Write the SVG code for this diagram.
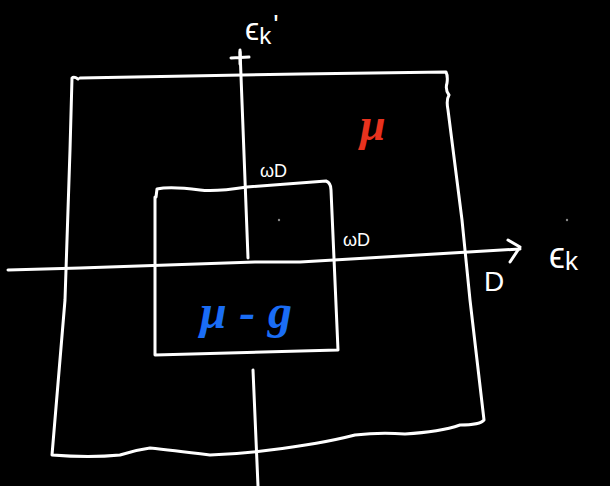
<svg xmlns="http://www.w3.org/2000/svg" width="610" height="486" viewBox="0 0 610 486">
<style>
.ln{fill:none;stroke:#fff;stroke-width:3;stroke-linecap:round;stroke-linejoin:round}
.t{font-family:"Liberation Sans",Arial,sans-serif;fill:#fff}
</style>
<rect width="610" height="486" fill="#000"/>
<g id="outer-box">
<path class="ln" d="M78,79 Q74,76 72,78 L70,150 L65,300 L52,455 Q90,458 120,455 Q135,450 150,448 Q170,450 210,455 Q240,454 270,450 Q320,444 355,435 Q380,432 405,434 Q440,432 460,425 Q480,425 484,420 L470,300 L462,220 L448,110 Q446,100 449,95 Q445,90 447,83 Q448,76 446,72 L300,74 L80,78"/>
</g>
<g id="inner-box">
<path class="ln" d="M156,197 L157,189 Q170,186 200,190 Q215,192 247,187 Q300,183 326,181 Q331,183 331,190 L338,350 L155,355 L155,197"/>
</g>
<g id="connectors">
<path class="ln" d="M8,270 L80,268 L255,262 L300,262 L520,249"/>
<path class="ln" d="M508,240 L520,247 L510,262"/>
<path class="ln" d="M248,258 L240,50"/>
<path class="ln" d="M231,58 L249,57 M240,52 L240,64"/>
<path class="ln" d="M253,370 L258,486"/>
</g>
<g id="labels">
<text class="t" x="245" y="40" font-size="32">ϵ<tspan font-size="24" dy="4">k</tspan><tspan dy="-10" dx="2" font-size="28">'</tspan></text>
<text class="t" x="549" y="268" font-size="36">ϵ<tspan font-size="26" dy="2">k</tspan></text>
<text class="t" x="484" y="291" font-size="28">D</text>
<text class="t" x="260" y="177" font-size="18">ωD</text>
<text class="t" x="343" y="246" font-size="18">ωD</text>
<text x="360" y="140" font-size="46" font-style="italic" font-weight="bold" font-family="Liberation Serif,serif" fill="#e8321e">μ</text>
<text x="200" y="328" font-size="48" font-style="italic" font-weight="bold" font-family="Liberation Serif,serif" fill="#1a6df5" textLength="92" lengthAdjust="spacing">μ-g</text>
</g>
<circle cx="279" cy="220" r="1.2" fill="#888"/>
<circle cx="567" cy="220" r="1.2" fill="#888"/>
</svg>
